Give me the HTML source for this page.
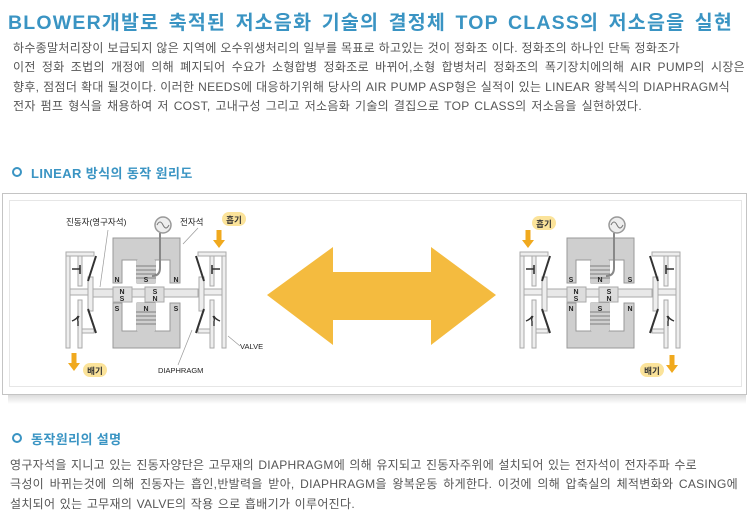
<!DOCTYPE html>
<html><head><meta charset="utf-8">
<style>
html,body{margin:0;padding:0;background:#fff;}
body{width:750px;height:516px;position:relative;overflow:hidden;font-family:"Liberation Sans","Noto Sans CJK KR",sans-serif;}
.t{position:absolute;white-space:nowrap;}
h1{position:absolute;left:8px;top:6px;width:725px;margin:0;font-size:19.5px;font-weight:bold;color:#3a94c3;letter-spacing:1.2px;white-space:nowrap;text-align:justify;text-align-last:justify;font-family:"Liberation Sans","Noto Sans CJK KR",sans-serif;}
.p{font-size:12px;color:#555;line-height:19.7px;}
.l{position:absolute;font-size:12px;color:#555;white-space:nowrap;text-align:justify;text-align-last:justify;letter-spacing:0.3px;line-height:16px;}
.h{font-size:13px;font-weight:bold;color:#3a94c3;letter-spacing:0.4px;}
.ci{position:absolute;width:6px;height:6px;border:2.2px solid #3a94c3;border-radius:50%;}
</style></head><body>
<h1>BLOWER개발로 축적된 저소음화 기술의 결정체 TOP CLASS의 저소음을 실현</h1>
<div class="l" style="left:13px;top:40px;width:652px;">하수종말처리장이 보급되지 않은 지역에 오수위생처리의 일부를 목표로 하고있는 것이 정화조 이다. 정화조의 하나인 단독 정화조가</div>
<div class="l" style="left:13px;top:59px;width:732px;">이전 정화 조법의 개정에 의해 폐지되어 수요가 소형합병 정화조로 바뀌어,소형 합병처리 정화조의 폭기장치에의해 AIR PUMP의 시장은</div>
<div class="l" style="left:13px;top:79px;width:717px;">향후, 점점더 확대 될것이다. 이러한 NEEDS에 대응하기위해 당사의 AIR PUMP ASP형은 실적이 있는 LINEAR 왕복식의 DIAPHRAGM식</div>
<div class="l" style="left:13px;top:98px;width:629px;">전자 펌프 형식을 채용하여 저 COST, 고내구성 그리고 저소음화 기술의 결집으로 TOP CLASS의 저소음을 실현하였다.</div>

<div class="ci" style="left:12px;top:167px;"></div>
<div class="t h" style="left:31px;top:163px;">LINEAR 방식의 동작 원리도</div>

<div style="position:absolute;left:8px;top:394px;width:738px;height:10px;background:linear-gradient(#d8d8d8,#fff);"></div>
<div style="position:absolute;left:2px;top:193px;width:743px;height:200px;border:1px solid #c4c4c4;background:#fff;"></div>
<div style="position:absolute;left:9px;top:200px;width:731px;height:185px;border:1px solid #e6e6e6;background:#fff;"></div>

<svg width="750" height="516" style="position:absolute;left:0;top:0;" xmlns="http://www.w3.org/2000/svg" font-family="Liberation Sans, Noto Sans CJK KR, sans-serif">
<defs>
<g id="valve">
  <rect x="66" y="253" width="4" height="95" fill="#eee" stroke="#aaa"/>
  <rect x="78" y="256" width="4" height="30" fill="#eee" stroke="#aaa"/>
  <rect x="78" y="300" width="4" height="48" fill="#eee" stroke="#aaa"/>
  <rect x="66" y="252" width="28" height="4" fill="#eee" stroke="#aaa"/>
  <rect x="70" y="289" width="20" height="6" fill="#eee" stroke="#aaa"/>
  <rect x="82" y="329" width="12" height="4" fill="#eee" stroke="#aaa"/>
  <rect x="88" y="277" width="5" height="34" fill="#eee" stroke="#aaa"/>
  <line x1="96" y1="256" x2="88" y2="281" stroke="#333" stroke-width="2"/>
  <line x1="88" y1="309" x2="96" y2="333" stroke="#333" stroke-width="2"/>
  <path d="M72 269 H80 M80 265 V274" stroke="#333" stroke-width="1.6" fill="none"/>
  <path d="M72 321 Q77 319 78 316 M78 321 V326 M78 321 Q77 319 79 316" stroke="#333" stroke-width="1.4" fill="none"/>
</g>
<g id="core">
  <rect x="88" y="289" width="110" height="8" fill="#e8e8e8" stroke="#aaa"/>
  <path d="M113 238 H180 V283 H170 V260 H155 V283 H137 V260 H122 V283 H113 Z" fill="#cfcfcf" stroke="#999"/>
  <path d="M113 348 H180 V303 H170 V331 H155 V303 H137 V331 H122 V303 H113 Z" fill="#cfcfcf" stroke="#999"/>
  <rect x="137" y="260" width="18" height="23" fill="#cfcfcf"/>
  <rect x="137" y="303" width="18" height="28" fill="#cfcfcf"/>
  <g stroke="#666" stroke-width="0.8" fill="none">
    <path d="M136 266 H156 M136 270 H156 M136 274 H156 M136 278 H156"/>
    <path d="M136 312 H156 M136 316 H156 M136 320 H156 M136 324 H156"/>
    <path d="M160 233 V268 Q160 276 152 276" stroke="#888" stroke-width="2"/>
  </g>
  <circle cx="163" cy="225" r="8" fill="#eee" stroke="#999" stroke-width="1.5"/>
  <path d="M157 225 Q160 219 163 225 Q166 231 169 225" stroke="#777" fill="none"/>
  <rect x="113" y="287" width="19" height="15" fill="#ddd" stroke="#aaa"/>
  <rect x="145" y="287" width="19" height="15" fill="#ddd" stroke="#aaa"/>
</g>
</defs>

<use href="#core"/>
<use href="#valve"/>
<use href="#valve" transform="translate(292,0) scale(-1,1)"/>
<g font-size="7" font-weight="bold" fill="#222" text-anchor="middle">
<text x="117" y="282">N</text><text x="146" y="282">S</text><text x="176" y="282">N</text>
<text x="122" y="294">N</text><text x="122" y="301">S</text>
<text x="155" y="294">S</text><text x="155" y="301">N</text>
<text x="117" y="311">S</text><text x="146" y="311">N</text><text x="176" y="311">S</text>
</g>
<g font-size="8.5" fill="#222">
<text x="66" y="225">진동자(영구자석)</text>
<text x="180" y="225">전자석</text>
<text x="240" y="349" font-size="7.5">VALVE</text>
<text x="158" y="373" font-size="7.5">DIAPHRAGM</text>
</g>
<g stroke="#999" stroke-width="0.7" fill="none">
<path d="M108 230 L100 287"/><path d="M198 228 L183 244"/>
<path d="M228 336 L240 346"/><path d="M178 365 L192 330"/>
</g>
<rect x="222" y="212" width="24" height="14" rx="7" fill="#fbe39a"/>
<text x="234" y="223" font-size="8.5" font-weight="bold" fill="#333" text-anchor="middle">흡기</text>
<path d="M216.5 230 h5 v10 h3.5 l-6 8 l-6 -8 h3.5 z" fill="#f0a91e"/>
<rect x="83" y="363" width="24" height="14" rx="7" fill="#fbe39a"/>
<text x="95" y="374" font-size="8.5" font-weight="bold" fill="#333" text-anchor="middle">배기</text>
<path d="M71.5 353 h5 v10 h3.5 l-6 8 l-6 -8 h3.5 z" fill="#f0a91e"/>

<path d="M267 295 L333 247 V272 H431 V247 L496 295 L431 345 V320 H333 V345 Z" fill="#f4bb3f"/>

<g transform="translate(454,0)">
<use href="#core"/>
<use href="#valve"/>
<use href="#valve" transform="translate(292,0) scale(-1,1)"/>
<g font-size="7" font-weight="bold" fill="#222" text-anchor="middle">
<text x="117" y="282">S</text><text x="146" y="282">N</text><text x="176" y="282">S</text>
<text x="122" y="294">N</text><text x="122" y="301">S</text>
<text x="155" y="294">S</text><text x="155" y="301">N</text>
<text x="117" y="311">N</text><text x="146" y="311">S</text><text x="176" y="311">N</text>
</g>
</g>
<rect x="532" y="216" width="24" height="14" rx="7" fill="#fbe39a"/>
<text x="544" y="227" font-size="8.5" font-weight="bold" fill="#333" text-anchor="middle">흡기</text>
<path d="M525.5 230 h5 v10 h3.5 l-6 8 l-6 -8 h3.5 z" fill="#f0a91e"/>
<rect x="640" y="363" width="24" height="14" rx="7" fill="#fbe39a"/>
<text x="652" y="374" font-size="8.5" font-weight="bold" fill="#333" text-anchor="middle">배기</text>
<path d="M669.5 355 h5 v10 h3.5 l-6 8 l-6 -8 h3.5 z" fill="#f0a91e"/>
</svg>

<div class="ci" style="left:12px;top:433px;"></div>
<div class="t h" style="left:31px;top:429px;">동작원리의 설명</div>
<div class="l" style="left:10px;top:457px;width:687px;">영구자석을 지니고 있는 진동자양단은 고무재의 DIAPHRAGM에 의해 유지되고 진동자주위에 설치되어 있는 전자석이 전자주파 수로</div>
<div class="l" style="left:10px;top:476px;width:728px;">극성이 바뀌는것에 의해 진동자는 흡인,반발력을 받아, DIAPHRAGM을 왕복운동 하게한다. 이것에 의해 압축실의 체적변화와 CASING에</div>
<div class="l" style="left:10px;top:496px;width:345px;">설치되어 있는 고무재의 VALVE의 작용 으로 흡배기가 이루어진다.</div>
</body></html>
